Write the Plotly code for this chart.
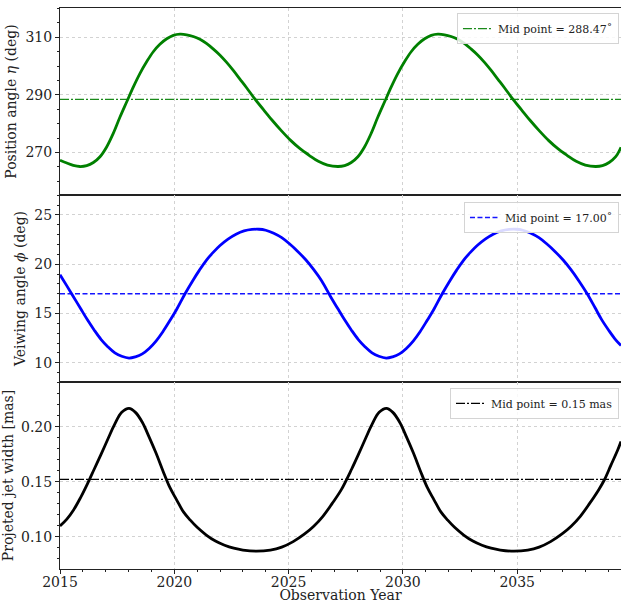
import plotly.graph_objects as go
from plotly.subplots import make_subplots

# ---------------- data ----------------
years_eta = [2015.00, 2015.30, 2015.58, 2015.87, 2016.17, 2016.46, 2016.75, 2017.04, 2017.33,
             2017.62, 2017.92, 2018.21, 2018.50, 2018.79, 2019.08, 2019.37, 2019.67, 2019.96,
             2020.25, 2020.54, 2020.83, 2021.12, 2021.42, 2021.71, 2022.00, 2022.29, 2022.58,
             2022.87, 2023.17, 2023.53, 2023.90, 2024.30, 2024.70, 2025.10, 2025.50, 2025.90,
             2026.30, 2026.70,
             2027.15, 2027.45, 2027.74, 2028.03, 2028.32, 2028.61, 2028.90, 2029.20, 2029.49,
             2029.78, 2030.07, 2030.36, 2030.65, 2030.95, 2031.24, 2031.53, 2031.82, 2032.11,
             2032.40, 2032.70, 2032.99, 2033.28, 2033.57, 2033.86, 2034.15, 2034.45, 2034.81,
             2035.18, 2035.58, 2035.98, 2036.38, 2036.78, 2037.18, 2037.58, 2037.98,
             2038.43, 2038.73, 2039.02, 2039.31, 2039.54]
eta = [267.3, 266.3, 265.5, 265.1, 265.4, 266.5, 268.5, 271.9, 276.6,
       282.2, 287.6, 292.8, 297.5, 301.5, 305.0, 307.6, 309.5, 310.7,
       311.1, 310.9, 310.3, 309.3, 307.8, 305.9, 303.8, 301.3, 298.5,
       295.5, 292.4, 288.5, 284.9, 281.0, 277.4, 274.1, 271.3, 269.0,
       266.9, 265.6,
       265.1, 265.4, 266.5, 268.5, 271.9, 276.6, 282.2, 287.6, 292.8,
       297.5, 301.5, 305.0, 307.6, 309.5, 310.7, 311.1, 310.9, 310.3,
       309.3, 307.8, 305.9, 303.8, 301.3, 298.5, 295.5, 292.4, 288.5,
       284.9, 281.0, 277.4, 274.1, 271.3, 269.0, 266.9, 265.6,
       265.1, 265.4, 266.5, 268.5, 271.8]

years_phi = [2015.00, 2015.30, 2015.60, 2015.90, 2016.20, 2016.50, 2016.80, 2017.10, 2017.40,
             2017.70, 2018.02, 2018.30, 2018.60, 2018.90, 2019.20, 2019.50, 2019.80, 2020.10,
             2020.47, 2020.80, 2021.10, 2021.40, 2021.70, 2022.00, 2022.35, 2022.70, 2023.05,
             2023.40, 2023.70, 2024.00, 2024.35, 2024.70, 2025.05, 2025.40, 2025.75, 2026.10,
             2026.45,
             2026.85, 2027.15, 2027.45, 2027.75, 2028.05, 2028.35, 2028.65, 2028.95, 2029.27,
             2029.55, 2029.85, 2030.15, 2030.45, 2030.75, 2031.05, 2031.35, 2031.72, 2032.05,
             2032.35, 2032.65, 2032.95, 2033.25, 2033.60, 2033.95, 2034.30, 2034.65, 2034.95,
             2035.25, 2035.60, 2035.95, 2036.30, 2036.65, 2037.00, 2037.35, 2037.70, 2038.06,
             2038.40, 2038.70, 2039.00, 2039.30, 2039.54]
phi = [18.93, 17.80, 16.65, 15.50, 14.35, 13.30, 12.35, 11.60, 11.00,
       10.65, 10.47, 10.60, 10.90, 11.45, 12.20, 13.15, 14.25, 15.40,
       17.00, 18.30, 19.40, 20.40, 21.20, 21.90, 22.55, 23.05, 23.38,
       23.53, 23.55, 23.45, 23.15, 22.70, 22.05, 21.30, 20.45, 19.45,
       18.30,
       16.65, 15.50, 14.35, 13.30, 12.35, 11.60, 11.00, 10.65, 10.47,
       10.60, 10.90, 11.45, 12.20, 13.15, 14.25, 15.40, 17.00, 18.30,
       19.40, 20.40, 21.20, 21.90, 22.55, 23.05, 23.38, 23.53, 23.55,
       23.45, 23.15, 22.70, 22.05, 21.30, 20.45, 19.45, 18.30, 17.00,
       15.60, 14.35, 13.30, 12.35, 11.75]

years_w = [2015.00, 2015.30, 2015.60, 2015.90, 2016.20, 2016.50, 2016.80, 2017.10, 2017.40,
           2017.70, 2018.02, 2018.30, 2018.60, 2018.90, 2019.20, 2019.50, 2019.80, 2020.10,
           2020.40, 2020.70, 2021.00, 2021.40, 2021.80, 2022.20, 2022.60, 2023.00, 2023.60,
           2024.20, 2024.70, 2025.20, 2025.70, 2026.10, 2026.50, 2026.90, 2027.30,
           2027.76, 2028.06, 2028.36, 2028.66, 2028.96, 2029.28, 2029.56, 2029.86, 2030.16,
           2030.46, 2030.76, 2031.06, 2031.36, 2031.66, 2031.96, 2032.26, 2032.66, 2033.06,
           2033.46, 2033.86, 2034.26, 2034.86, 2035.46, 2035.96, 2036.46, 2036.96, 2037.36,
           2037.76, 2038.16, 2038.56, 2038.81, 2039.10, 2039.40, 2039.54]
width = [0.1098, 0.1160, 0.1245, 0.1355, 0.1480, 0.1615, 0.1750, 0.1890, 0.2025,
         0.2130, 0.2166, 0.2130, 0.2040, 0.1905, 0.1760, 0.1600, 0.1450, 0.1335,
         0.1225, 0.1150, 0.1085, 0.1015, 0.0960, 0.0922, 0.0895, 0.0878, 0.0868,
         0.0878, 0.0905, 0.0955, 0.1025, 0.1095, 0.1185, 0.1300, 0.1425,
         0.1615, 0.1750, 0.1890, 0.2025, 0.2130, 0.2166, 0.2130, 0.2040, 0.1905,
         0.1760, 0.1600, 0.1450, 0.1335, 0.1225, 0.1150, 0.1085, 0.1015, 0.0960,
         0.0922, 0.0895, 0.0878, 0.0868, 0.0878, 0.0905, 0.0955, 0.1025, 0.1095,
         0.1185, 0.1300, 0.1425, 0.1515, 0.1650, 0.1790, 0.1865]

mid_values = [288.47, 17.00, 0.152]
mid_labels = ["Mid point = 288.47˚",
              "Mid point = 17.00˚",
              "Mid point = 0.15 mas"]
x_range = [2015.0, 2039.54]

# ---------------- figure ----------------
FONT = "DejaVu Serif"
TXT = "#222222"
fig = make_subplots(rows=3, cols=1, shared_xaxes=True, vertical_spacing=0)

curves = [(years_eta, eta, "#008000"), (years_phi, phi, "#0000ff"), (years_w, width, "#000000")]
mid_styles = [("#1a8a1a", "9px,2px,2px,2px", 1.3), ("#1515ff", "5px,2.5px", 1.5),
              ("#000000", "9px,2px,2px,2px", 1.3)]
legend_names = ["legend", "legend2", "legend3"]

for i, (xs, ys, col) in enumerate(curves):
    r = i + 1
    mcol, mdash, mw = mid_styles[i]
    fig.add_trace(go.Scatter(x=x_range, y=[mid_values[i]] * 2, mode="lines",
                             line=dict(color=mcol, width=mw, dash=mdash),
                             name=mid_labels[i], showlegend=True,
                             legend=legend_names[i]), row=r, col=1)
    fig.add_trace(go.Scatter(x=xs, y=ys, mode="lines",
                             line=dict(color=col, width=2.8, shape="spline", smoothing=1.0),
                             showlegend=False), row=r, col=1)

grid = dict(showgrid=True, gridcolor="#d2d2d2", griddash="dot", gridwidth=0.8)
for r in (1, 2, 3):
    fig.update_xaxes(range=x_range, tick0=2015, dtick=5, showline=True, linecolor=TXT,
                     linewidth=1.1, mirror=True, ticks="outside" if r == 3 else "",
                     ticklen=3.5, tickcolor=TXT, automargin=False,
                     minor=dict(ticks="outside" if r == 3 else "", dtick=1, ticklen=2,
                                tickcolor=TXT, showgrid=False),
                     tickfont=dict(family=FONT, size=14, color=TXT),
                     zeroline=False, **grid, row=r, col=1)

fig.update_xaxes(ticklabelstandoff=-3,
                 title=dict(text="Observation Year", font=dict(family=FONT, size=14, color=TXT),
                            standoff=5), row=3, col=1)

yaxes_cfg = [
    dict(range=[255.2, 320.2], tick0=270, dtick=20, minor_dtick=5,
         title="Position angle <i>η</i> (deg)", fmt=None),
    dict(range=[8.04, 27.03], tick0=10, dtick=5, minor_dtick=1,
         title="Veiwing angle <i>ϕ</i> (deg)", fmt=None),
    dict(range=[0.0706, 0.2406], tick0=0.1, dtick=0.05, minor_dtick=0.01,
         title="Projeted jet width [mas]", fmt=".2f"),
]
for i, c in enumerate(yaxes_cfg):
    kw = {}
    if c["fmt"]:
        kw["tickformat"] = c["fmt"]
    fig.update_yaxes(range=c["range"], tick0=c["tick0"], dtick=c["dtick"],
                     showline=True, linecolor=TXT, linewidth=1.1, mirror=False,
                     ticks="outside", ticklen=4, tickcolor=TXT, automargin=False,
                     minor=dict(ticks="outside", dtick=c["minor_dtick"], ticklen=2,
                                tickcolor=TXT, showgrid=False),
                     tickfont=dict(family=FONT, size=14, color=TXT),
                     title=dict(text=c["title"], font=dict(family=FONT, size=14, color=TXT),
                                standoff=5),
                     zeroline=False, **grid, row=i + 1, col=1, **kw)

leg_common = dict(xanchor="right", yanchor="top", x=0.9964, bgcolor="rgba(255,255,255,0.85)",
                  bordercolor="#d4d4d4", borderwidth=1,
                  font=dict(family=FONT, size=11, color=TXT))
fig.update_layout(
    width=621, height=603,
    margin=dict(l=60, r=0, t=8, b=34, autoexpand=False),
    paper_bgcolor="white", plot_bgcolor="white",
    font=dict(family=FONT, color=TXT),
    legend=dict(y=0.991, **leg_common),
    legend2=dict(y=0.654, **leg_common),
    legend3=dict(y=0.323, **leg_common),
)

fig.write_html("out.html", config={"displayModeBar": False},
               post_script="document.body.style.margin='0';document.body.style.overflow='hidden';")
